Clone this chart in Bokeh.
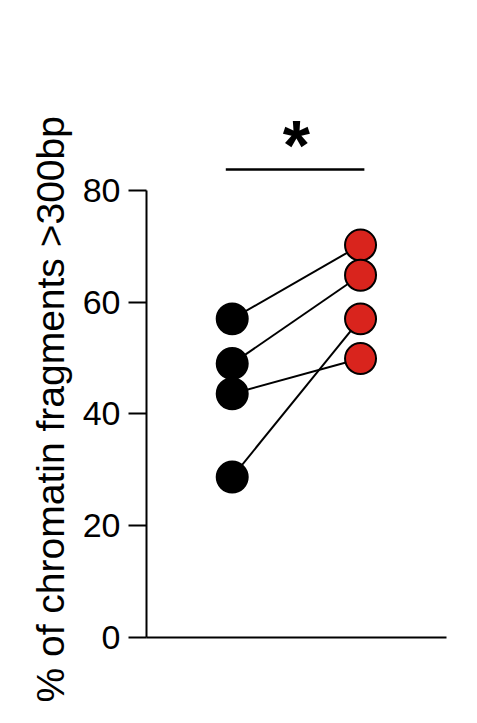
from bokeh.plotting import figure
from bokeh.models import Range1d, FixedTicker, Title, ColumnDataSource
from bokeh.core.properties import value
from bokeh.embed import file_html
from bokeh.resources import INLINE

# data
group_pos = [1, 2]                      # condition positions (no x labels shown)
before = [57.0, 49.0, 43.6, 28.7]       # black points
after = [70.2, 64.8, 49.9, 57.0]        # red points (paired)
y_ticks = [0, 20, 40, 60, 80]
y_label = "% of chromatin fragments >300bp"
sig_text = "*"
sig_bar_y = 83.7
sig_star_y = 88.0
sig_bar_x = [0.95, 2.03]

FONT = "Liberation Sans"
RED = "#d9241d"

p = figure(
    output_backend="svg", toolbar_location=None,
    frame_width=300, frame_height=559,
    min_border_left=146, min_border_right=12,
    min_border_top=78, min_border_bottom=80,
    x_range=Range1d(0.332, 2.670), y_range=Range1d(0, 100),
)
p.outline_line_color = None
p.background_fill_color = "white"
p.border_fill_color = "white"
p.xgrid.visible = False
p.ygrid.visible = False

# x axis: line only
p.xaxis.ticker = FixedTicker(ticks=[])
p.xaxis.major_tick_line_color = None
p.xaxis.minor_tick_line_color = None
p.xaxis.axis_line_width = 2
p.xaxis.axis_line_color = "black"

# y axis
p.yaxis.ticker = FixedTicker(ticks=y_ticks)
p.yaxis.bounds = (0, 80)
p.yaxis.axis_line_width = 2
p.yaxis.axis_line_color = "black"
p.yaxis.major_tick_line_width = 2
p.yaxis.major_tick_line_color = "black"
p.yaxis.major_tick_out = 18
p.yaxis.major_tick_in = 0
p.yaxis.minor_tick_line_color = None
p.yaxis.major_label_standoff = 8
p.yaxis.major_label_text_font = FONT
p.yaxis.major_label_text_font_size = "34px"
p.yaxis.major_label_text_color = "black"

# paired lines
src = ColumnDataSource(dict(
    x0=[group_pos[0]] * len(before), y0=before,
    x1=[group_pos[1]] * len(after), y1=after,
))
p.segment(x0="x0", y0="y0", x1="x1", y1="y1", source=src,
          line_color="black", line_width=2)

# points
p.scatter([group_pos[0]] * len(before), before, size=31,
          fill_color="black", line_color="black", line_width=2)
p.scatter([group_pos[1]] * len(after), after, size=31,
          fill_color=RED, line_color="black", line_width=2)

# significance bar and asterisk
p.line(sig_bar_x, [sig_bar_y, sig_bar_y], line_color="black", line_width=2.5)
p.text(x=[sum(group_pos) / 2], y=[sig_star_y], text=[sig_text],
       text_font=value(FONT), text_font_style="bold",
       text_font_size="70px", text_align="center",
       text_baseline="alphabetic", text_color="black")

# y axis label as a left-side title
t = Title(text=y_label, align="left", offset=-65,
          text_font=FONT, text_font_size="39px", text_font_style="normal",
          text_color="black", standoff=16)
p.add_layout(t, "left")

open("out.html", "w").write(file_html(p, INLINE))
